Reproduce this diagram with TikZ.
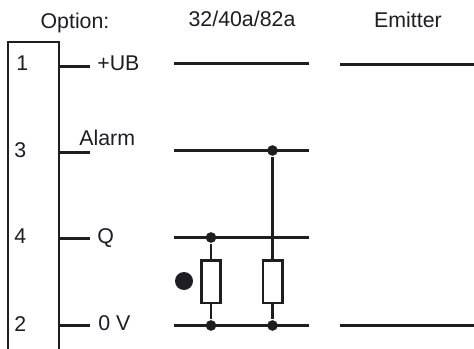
\documentclass[tikz,border=0pt]{standalone}
\usepackage{fontspec}
\setmainfont{Liberation Sans}
\definecolor{wireblack}{RGB}{29,29,34}
\begin{document}
\begin{tikzpicture}[x=0.75pt, y=-0.75pt, line width=2pt, draw=wireblack, text=wireblack,
                label/.style ={anchor=base west, inner sep=0pt, font=\fontsize{16}{18}\selectfont},
                head/.style ={anchor=base, inner sep=0pt, font=\fontsize{16}{18}\selectfont},
                junction/.style ={circle, fill=wireblack, draw=none, minimum size=8pt, inner sep=0pt},
                resistor/.style ={rectangle, draw, fill=white, minimum width=14.5pt, minimum height=32pt, inner sep=0pt}]
            \useasboundingbox (0, 0) rectangle (474, 349);

            %headings
            \node[head] (hoption) at (75, 29) {Option:};
            \node[head] (hswitch) at (242, 27) {32/40a/82a};
            \node[head] (hemitter) at (408, 28) {Emitter};

            %connector block, open at the bottom
            \coordinate (bl) at (8, 349);
            \coordinate (tl) at (8, 42);
            \coordinate (tr) at (59, 42);
            \coordinate (br) at (59, 349);
            \draw[line join=miter] (bl) -- (tl) -- (tr) -- (br);

            \node[label] (pin1) at (15, 71) {1};
            \node[label] (pin3) at (13, 157) {3};
            \node[label] (pin4) at (13, 243) {4};
            \node[label] (pin2) at (13, 331) {2};

            \node[label] (ub) at (96, 71) {+UB};
            \node[label] (alarm) at (78, 145.5) {Alarm};
            \node[label] (q) at (96, 243) {Q};
            \node[label] (gnd) at (97, 330) {0 V};

            %stubs on the block
            \coordinate (s1a) at (59, 66.5);
            \coordinate (s1b) at (90, 66.5);
            \coordinate (s3a) at (59, 152.5);
            \coordinate (s3b) at (90, 152.5);
            \coordinate (s4a) at (59, 238.5);
            \coordinate (s4b) at (90, 238.5);
            \coordinate (s2a) at (59, 325.5);
            \coordinate (s2b) at (90, 325.5);
            \path (s1a) edge (s1b);
            \path (s3a) edge (s3b);
            \path (s4a) edge (s4b);
            \path (s2a) edge (s2b);

            %rails
            \coordinate (r1a) at (174, 63.5);
            \coordinate (r1b) at (309, 63.5);
            \coordinate (r3a) at (174, 150.5);
            \coordinate (r3b) at (309, 150.5);
            \coordinate (r4a) at (174, 237.5);
            \coordinate (r4b) at (309, 237.5);
            \coordinate (r2a) at (174, 325.5);
            \coordinate (r2b) at (309, 325.5);
            \path (r1a) edge (r1b);
            \path (r3a) edge (r3b);
            \path (r4a) edge (r4b);
            \path (r2a) edge (r2b);

            \coordinate (e1a) at (340, 64.5);
            \coordinate (e1b) at (474, 64.5);
            \coordinate (e2a) at (340, 325.5);
            \coordinate (e2b) at (474, 325.5);
            \path (e1a) edge (e1b);
            \path (e2a) edge (e2b);

            %pull resistors
            \node[junction] (j1) at (211, 237.5) {};
            \node[junction] (j2) at (211, 325.5) {};
            \node[junction] (j3) at (272.5, 150.5) {};
            \node[junction] (j4) at (272.5, 325.5) {};
            \path (j1) edge (j2);
            \path (j3) edge (j4);
            \node[resistor] (res1) at (211, 281.5) {};
            \node[resistor] (res2) at (272.5, 281.5) {};

            \node[circle, fill=wireblack, draw=none, minimum size=13.5pt, inner sep=0pt] (mark) at (184, 281) {};
\end{tikzpicture}
\end{document}
